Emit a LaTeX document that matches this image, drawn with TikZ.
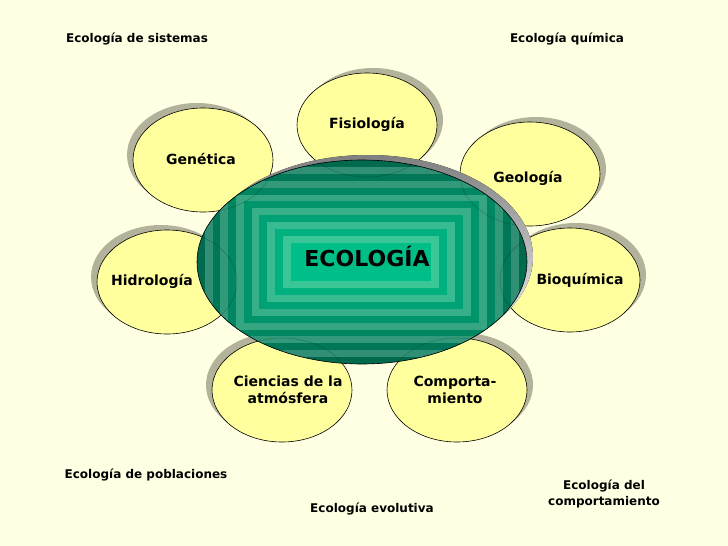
\documentclass[tikz,border=0pt]{standalone}
\usepackage{fontspec}
\setmainfont{DejaVu Sans}
\definecolor{bg}{HTML}{FFFFE3}
\definecolor{petal}{HTML}{FFFF9E}
\definecolor{shade}{HTML}{B3B39C}
\definecolor{darkout}{HTML}{006A4E}
\definecolor{darkin}{HTML}{00BE88}
\definecolor{lightout}{HTML}{2F8A70}
\definecolor{lightin}{HTML}{3CCB9C}
\tikzset{
  petalshape/.style={ellipse, draw=black, line width=0.6pt, fill=petal, minimum width=140pt, minimum height=104pt, inner sep=0pt},
  petalshadow/.style={ellipse, fill=shade, minimum width=140pt, minimum height=104pt, inner sep=0pt},
  petaltext/.style={align=center, font=\bfseries\fontsize{14}{17.5}\selectfont},
  outer/.style={font=\bfseries\fontsize{12}{16}\selectfont, align=center}
}
\usetikzlibrary{shapes.geometric}
\begin{document}
\begin{tikzpicture}[x=1pt,y=-1pt]
\fill[bg] (0,0) rectangle (728,546);
\useasboundingbox (0,0) rectangle (728,546);
% outer texts
\node[outer] (sis) at (137,39) {Ecología de sistemas};
\node[outer] (qui) at (567,39) {Ecología química};
\node[outer] (pob) at (146,475) {Ecología de poblaciones};
\node[outer] (evo) at (372,509) {Ecología evolutiva};
\node[outer] (com) at (604,494) {Ecología del\\comportamiento};
% petal shadows
\node[petalshadow] (s1) at (373,120) {};
\node[petalshadow] (s2) at (197,155) {};
\node[petalshadow] (s3) at (536,169) {};
\node[petalshadow] (s4) at (161,277) {};
\node[petalshadow] (s5) at (576,275) {};
\node[petalshadow] (s6) at (276,385) {};
\node[petalshadow] (s7) at (463,385) {};
% petals
\node[petalshape] (fis) at (367,125) {};
\node[petalshape] (gen) at (203,160) {};
\node[petalshape] (geo) at (530,174) {};
\node[petalshape] (hid) at (167,282) {};
\node[petalshape] (bio) at (570,280) {};
\node[petalshape] (cie) at (282,390) {};
\node[petalshape] (cmp) at (457,390) {};
% centre shadow
\fill[shade] (368,257) ellipse [x radius=165, y radius=102];
% centre banded ellipse
\begin{scope}
\clip (362,262) ellipse [x radius=165, y radius=102];
\foreach \i in {0,...,12}{
  \pgfmathsetmacro\p{100*\i/12}
  \pgfmathtruncatemacro\odd{mod(\i,2)}
  \ifnum\odd=1
    \colorlet{bandc}{lightin!\p!lightout}
  \else
    \colorlet{bandc}{darkin!\p!darkout}
  \fi
  \fill[bandc] (197+7.8*\i,160+6.9*\i) rectangle (527-8*\i,364-6.9*\i);
}
\foreach \n in {fis,gen,geo,hid,bio,cie,cmp}{
  \draw[black, opacity=0.2, line width=0.6pt] (\n.center) ellipse [x radius=70, y radius=52];
}
\end{scope}
\node[ellipse, draw=black, line width=0.6pt, minimum width=330pt, minimum height=204pt, inner sep=0pt] (eco) at (362,262) {};
% texts
\node[petaltext] (tfis) at (367,124) {Fisiología};
\node[petaltext] (tgen) at (201,159) {Genética};
\node[petaltext] (tgeo) at (528,178) {Geología};
\node[petaltext] (thid) at (152,281) {Hidrología};
\node[petaltext] (tbio) at (580,280) {Bioquímica};
\node[petaltext] (tcie) at (288,390) {Ciencias de la\\atmósfera};
\node[petaltext] (tcmp) at (455,390) {Comporta-\\miento};
\node[font=\bfseries\fontsize{22}{26}\selectfont] (ecot) at (367,256) {ECOLOGÍA};
\end{tikzpicture}
\end{document}
